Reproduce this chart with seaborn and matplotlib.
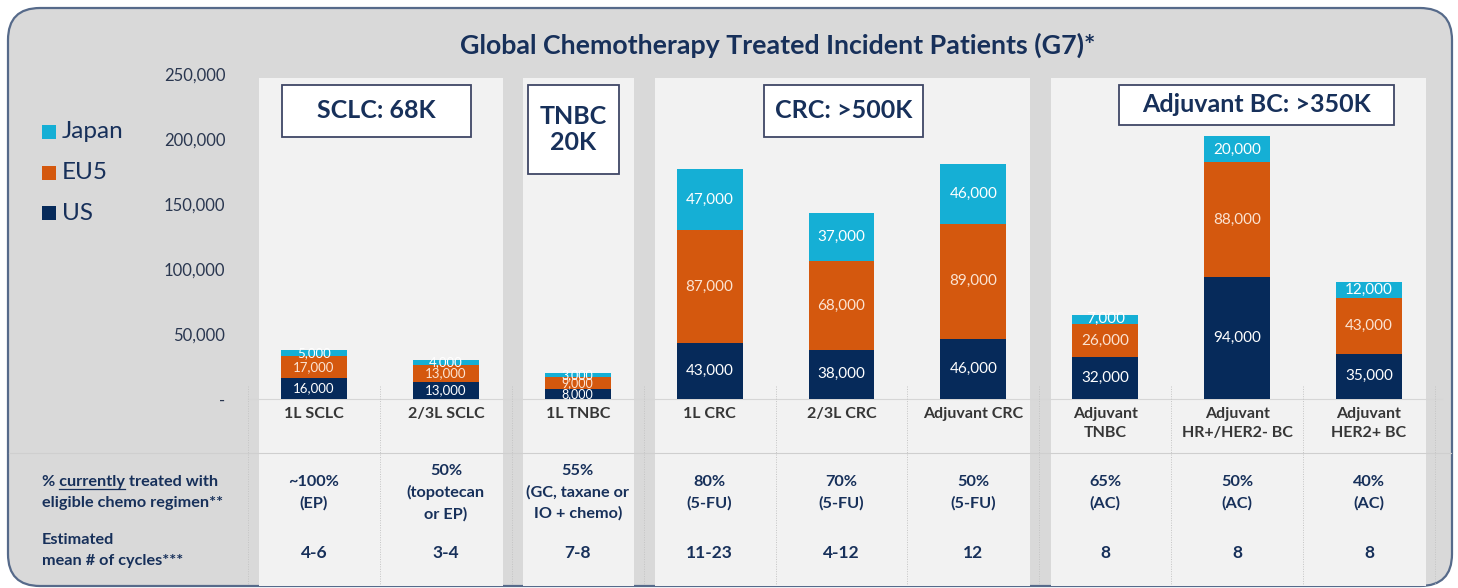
import pandas as pd
import matplotlib
matplotlib.use("Agg")
import matplotlib.pyplot as plt
import seaborn as sns
from matplotlib.patches import Rectangle, FancyBboxPatch
from matplotlib.lines import Line2D
from matplotlib import transforms

# ---- data ----
categories = ["1L SCLC", "2/3L SCLC", "1L TNBC", "1L CRC", "2/3L CRC", "Adjuvant CRC",
              "Adjuvant\nTNBC", "Adjuvant\nHR+/HER2- BC", "Adjuvant\nHER2+ BC"]
us = [16000, 13000, 8000, 43000, 38000, 46000, 32000, 94000, 35000]
eu5 = [17000, 13000, 9000, 87000, 68000, 89000, 26000, 88000, 43000]
japan = [5000, 4000, 3000, 47000, 37000, 46000, 7000, 20000, 12000]
series_names = ["Japan", "EU5", "US"]
pct_treated = ["~100%\n(EP)", "50%\n(topotecan\nor EP)", "55%\n(GC, taxane or\nIO + chemo)",
               "80%\n(5-FU)", "70%\n(5-FU)", "50%\n(5-FU)", "65%\n(AC)", "50%\n(AC)", "40%\n(AC)"]
cycles = ["4-6", "3-4", "7-8", "11-23", "4-12", "12", "8", "8", "8"]
group_titles = ["SCLC: 68K", "TNBC\n20K", "CRC: >500K", "Adjuvant BC: >350K"]
group_members = [[0, 1], [2], [3, 4, 5], [6, 7, 8]]
yticks = [0, 50000, 100000, 150000, 200000, 250000]
ytick_labels = ["-", "50,000", "100,000", "150,000", "200,000", "250,000"]
title = "Global Chemotherapy Treated Incident Patients (G7)*"

# ---- style ----
W, H = 1458, 588
NAVY = "#062a5a"
ORANGE = "#d4580e"
CYAN = "#15afd5"
TXT = "#17305a"
GRAY_BG = "#d9d9d9"
PANEL = "#f2f2f2"
plt.rcParams["font.family"] = ["Lato", "DejaVu Sans"]

fig = plt.figure(figsize=(W / 100, H / 100), dpi=100, facecolor="white")


def fx(x):
    return x / W


def fy(y):
    return 1 - y / H


# outer rounded frame
frame = FancyBboxPatch((0.08, 0.02), 14.44, 5.78, boxstyle="round,pad=0,rounding_size=0.32",
                       transform=fig.dpi_scale_trans, fc=GRAY_BG, ec="#566a8a", lw=1.6, zorder=-5)
fig.add_artist(frame)

# main axes: x=0 at 314px, x=8 at 1369px; y=0 at 399px, 250000 at 74px
x_per = (1369 - 314) / 8
ax_left, ax_right = 260, 1433
ax = fig.add_axes([fx(ax_left), fy(399), (ax_right - ax_left) / W, (399 - 74) / H])
ax.set_facecolor("none")
ax.set_zorder(2)

df = pd.DataFrame({"cat": categories, "US": us, "EU5": eu5, "Japan": japan})
df["eu_top"] = df["US"] + df["EU5"]
df["jp_top"] = df["eu_top"] + df["Japan"]

for col, c in [("jp_top", CYAN), ("eu_top", ORANGE), ("US", NAVY)]:
    sns.barplot(data=df, x="cat", y=col, order=categories, color=c, saturation=1,
                width=0.5, errorbar=None, linewidth=0, ax=ax)

ax.set_xlim((ax_left - 314) / x_per, (ax_right - 314) / x_per)
ax.set_ylim(0, 250000)
ax.set_xlabel("")
ax.set_ylabel("")
for s in ax.spines.values():
    s.set_visible(False)
ax.set_yticks(yticks)
ax.set_yticklabels(ytick_labels, fontsize=12, color="#2a3750")
ax.tick_params(axis="y", length=0, pad=25)
ax.set_xticks(range(len(categories)))
ax.set_xticklabels(categories, fontsize=11.5, fontweight="bold", color="#363636")
ax.tick_params(axis="x", length=0, pad=6)
for lbl in ax.get_xticklabels():
    lbl.set_linespacing(1.45)

# segment labels
label_sizes = [9.5, 9.5, 9, 11, 11, 11, 11, 11, 11]
for i in range(len(categories)):
    base = 0
    for vals, tc in [(us, "white"), (eu5, "#fbe3d2"), (japan, "white")]:
        v = vals[i]
        ax.text(i, base + v / 2, f"{v:,}", ha="center", va="center",
                fontsize=label_sizes[i], color=tc, zorder=5)
        base += v

blend = transforms.blended_transform_factory(ax.transData, fig.transFigure)

# white panels
for members in group_members:
    x0 = members[0] - 0.415
    x1 = members[-1] + 0.43
    fig.add_artist(Rectangle((x0, fy(586)), x1 - x0, fy(78) - fy(586), transform=blend,
                             fc=PANEL, ec="none", zorder=-4))

# table grid lines
fig.add_artist(Line2D([-0.5, 8.55], [fy(399), fy(399)], transform=blend, color="#d6d6d6",
                      lw=0.8, zorder=-3))
fig.add_artist(Line2D([fx(9), fx(1451)], [fy(453), fy(453)], color="#cfcfcf", lw=0.8, zorder=-3))
for k in range(-1, len(categories)):
    xk = k + 0.5
    fig.add_artist(Line2D([xk, xk], [fy(386), fy(585)], transform=blend, color="#c4c4c4",
                          lw=0.7, ls=(0, (1, 1.5)), zorder=-3))

# group boxes (pixel extents)
box_px = [(282, 85, 471, 137), (528, 85, 619, 174), (764, 85, 923, 137), (1119, 85, 1394, 125)]
for (x0, y0, x1, y1), t in zip(box_px, group_titles):
    fig.add_artist(Rectangle((fx(x0), fy(y1)), fx(x1) - fx(x0), fy(y0) - fy(y1),
                             transform=fig.transFigure, fc="white", ec="#3f4766", lw=1.3, zorder=3))
    fig.text(fx((x0 + x1) / 2), fy((y0 + y1) / 2), t, ha="center", va="center",
             fontsize=18, fontweight="bold", color=TXT, linespacing=1.2, zorder=4)

# title
fig.text(fx(778), fy(45), title, ha="center", va="center", fontsize=19.3,
         fontweight="bold", color=TXT)

# legend
for name, c, yc in zip(series_names, [CYAN, ORANGE, NAVY], [132, 173, 213]):
    fig.add_artist(Rectangle((fx(42), fy(yc + 7)), fx(14), 14 / H, transform=fig.transFigure,
                             fc=c, ec="none"))
    fig.text(fx(62), fy(yc), name, ha="left", va="center", fontsize=17.5, color=TXT)

# table rows
for i in range(len(categories)):
    fig.text(i, fy(492.5), pct_treated[i], transform=blend, ha="center", va="center",
             fontsize=11.7, fontweight="bold", color=TXT, linespacing=1.6)
    fig.text(i, fy(553), cycles[i], transform=blend, ha="center", va="center",
             fontsize=12.5, fontweight="bold", color=TXT)

fig.text(fx(42), fy(492.5), "% currently treated with\neligible chemo regimen**",
         ha="left", va="center", fontsize=11.7, fontweight="bold", color=TXT,
         linespacing=1.6)
fig.text(fx(42), fy(550.5), "Estimated\nmean # of cycles***", ha="left", va="center",
         fontsize=11.7, fontweight="bold", color=TXT, linespacing=1.6)

# underline "currently"
r = fig.canvas.get_renderer()
probe_a = fig.text(0, 0, "% currently", fontsize=11.7, fontweight="bold")
probe_b = fig.text(0, 0, "currently", fontsize=11.7, fontweight="bold")
wa = probe_a.get_window_extent(r).width
wb = probe_b.get_window_extent(r).width
probe_a.remove()
probe_b.remove()
ux1 = 42 + wa
ux0 = ux1 - wb
fig.add_artist(Line2D([fx(ux0), fx(ux1)], [fy(489), fy(489)], color=TXT, lw=0.9))

fig.savefig("out.png", dpi=100, facecolor="white")
